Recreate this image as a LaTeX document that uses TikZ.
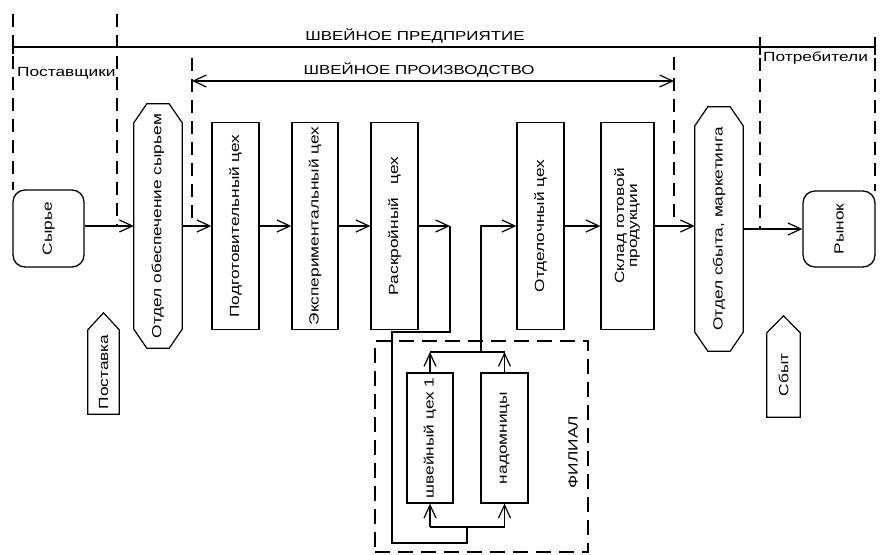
\documentclass[tikz,border=0pt]{standalone}
\usepackage{fontspec}
\setmainfont[FakeStretch=1.3]{Liberation Sans}
\usepackage{graphicx}
\usetikzlibrary{arrows.meta,calc}

% outline of a box with chamfered corners around a named node
\newcommand\chamferbox[1]{%
  \draw[line] ([xshift=13pt]#1.north west) -- ([xshift=-13pt]#1.north east)
    -- ([yshift=-19pt]#1.north east) -- ([yshift=19pt]#1.south east)
    -- ([xshift=-13pt]#1.south east) -- ([xshift=13pt]#1.south west)
    -- ([yshift=19pt]#1.south west) -- ([yshift=-19pt]#1.north west) -- cycle;}
% outline of a tag pointing upwards
\newcommand\tagbox[1]{%
  \draw[line] (#1.south west) -- (#1.north west) -- ([yshift=17pt]#1.north)
    -- (#1.north east) -- (#1.south east) -- cycle;}

\begin{document}
\begin{tikzpicture}[x=1pt,y=-1pt,
  every node/.style={font=\fontsize{13.3}{15}\selectfont, inner sep=0pt},
  line/.style={line width=1.2pt, line join=miter},
  barb/.tip={Straight Barb[length=13pt,width=12pt,line width=1.2pt]},
  flow/.style={line, -barb},
  bound/.style={line width=1.2pt, dash pattern=on 13pt off 8pt},
  box/.style={draw, line width=1.3pt, align=center},
  plain/.style={align=center},
  title/.style={font=\fontsize{13}{14.5}\selectfont}
]
\useasboundingbox (0,0) rectangle (883,554);

% --- scale bars at the top ---
\node[title] (ent) at (415,36) {ШВЕЙНОЕ ПРЕДПРИЯТИЕ};
\draw[line] (13,47) -- (875,47);
\draw[line] (13,40) -- (13,54);
\draw[line] (760,38) -- (760,55);
\draw[line] (875,38) -- (875,55);

\node[title] (prod) at (419,70) {ШВЕЙНОЕ ПРОИЗВОДСТВО};
\draw[line, barb-barb] (192,81) -- (674,81);

\node[anchor=west] (supl) at (17,73) {Поставщики};
\node[anchor=west] (cons) at (763,58) {Потребители};

% --- main chain ---
\node[box, rounded corners=12pt, minimum width=71pt, minimum height=77pt]
  (raw) at (48.5,228.5) {\rotatebox{90}{Сырье}};
\node[plain, minimum width=48pt, minimum height=244pt]
  (supply) at (158,226) {\rotatebox{90}{Отдел обеспечение сырьем}};
\chamferbox{supply}
\node[box, minimum width=47pt, minimum height=207pt]
  (prep) at (235.5,226) {\rotatebox{90}{Подготовительный цех}};
\node[box, minimum width=46pt, minimum height=207pt]
  (exp) at (315,226) {\rotatebox{90}{Экспериментальный цех}};
\node[box, minimum width=47pt, minimum height=207pt]
  (cut) at (394.5,226) {\rotatebox{90}{Раскройный\quad цех}};
\node[box, minimum width=47pt, minimum height=207pt]
  (finish) at (540.5,226) {\rotatebox{90}{Отделочный цех}};
\node[box, minimum width=53pt, minimum height=207pt]
  (store) at (627.5,226) {\rotatebox{90}{\begin{tabular}{@{}c@{}}Склад готовой\\[-2pt]продукции\end{tabular}}};
\node[plain, minimum width=48pt, minimum height=244pt]
  (sales) at (719,229) {\rotatebox{90}{Отдел сбыта, маркетинга}};
\chamferbox{sales}
\node[box, rounded corners=12pt, minimum width=72pt, minimum height=76pt]
  (market) at (839,229) {\rotatebox{90}{Рынок}};

% --- tags ---
\node[plain, minimum width=31pt, minimum height=84pt]
  (post) at (103.5,372) {\rotatebox{90}{Поставка}};
\tagbox{post}
\node[plain, minimum width=33pt, minimum height=84pt]
  (sbyt) at (783.5,375) {\rotatebox{90}{Сбыт}};
\tagbox{sbyt}

% --- branch ---
\node[draw, line width=1.2pt, dash pattern=on 15pt off 8pt,
  minimum width=213pt, minimum height=211pt] (filial) at (481.5,446.5) {};
\node (filname) at (573,452) {\rotatebox{90}{ФИЛИАЛ}};
\node[box, minimum width=46pt, minimum height=130pt]
  (sew) at (430,438) {\rotatebox{90}{швейный цех 1}};
\node[box, minimum width=47pt, minimum height=130pt]
  (home) at (504.5,438) {\rotatebox{90}{надомницы}};

% --- boundaries ---
\draw[bound] (13,14) -- (13,190);
\draw[bound] (117,14) -- (117,226);
\draw[bound] (192,58) -- (192,226);
\draw[bound] (674,57) -- (674,226);
\draw[bound] (760,37) -- (760,229);
\draw[bound] (875,37) -- (875,191);

% --- flows ---
\draw[flow] (raw.east |- supply.west) -- (supply.west);
\draw[flow] (supply.east) -- (prep.west);
\draw[flow] (prep.east) -- (exp.west);
\draw[flow] (exp.east) -- (cut.west);
\coordinate (out) at (450,226);
\draw[flow] (cut.east) -- (out);
\draw[line] (out) -- (out |- 0,332) -| (392,543) -| (467,527);
\coordinate (busl) at (sew.south |- 0,527);
\coordinate (busr) at (home.south |- 0,527);
\draw[line] (busl) -- (busr);
\draw[flow] (busl) -- (sew.south);
\draw[flow] (busr) -- (home.south);
\coordinate (topl) at (sew.north |- 0,352);
\coordinate (topr) at (home.north |- 0,352);
\draw[flow] (sew.north) -- (topl);
\draw[flow] (home.north) -- (topr);
\draw[line] (topl) -- (topr);
\coordinate (up) at (481,352);
\draw[flow] (up) |- (finish.west);
\draw[flow] (finish.east) -- (store.west);
\draw[flow] (store.east) -- (store.east -| sales.west);
\draw[flow] (sales.east) -- (market.west);
\end{tikzpicture}
\end{document}
